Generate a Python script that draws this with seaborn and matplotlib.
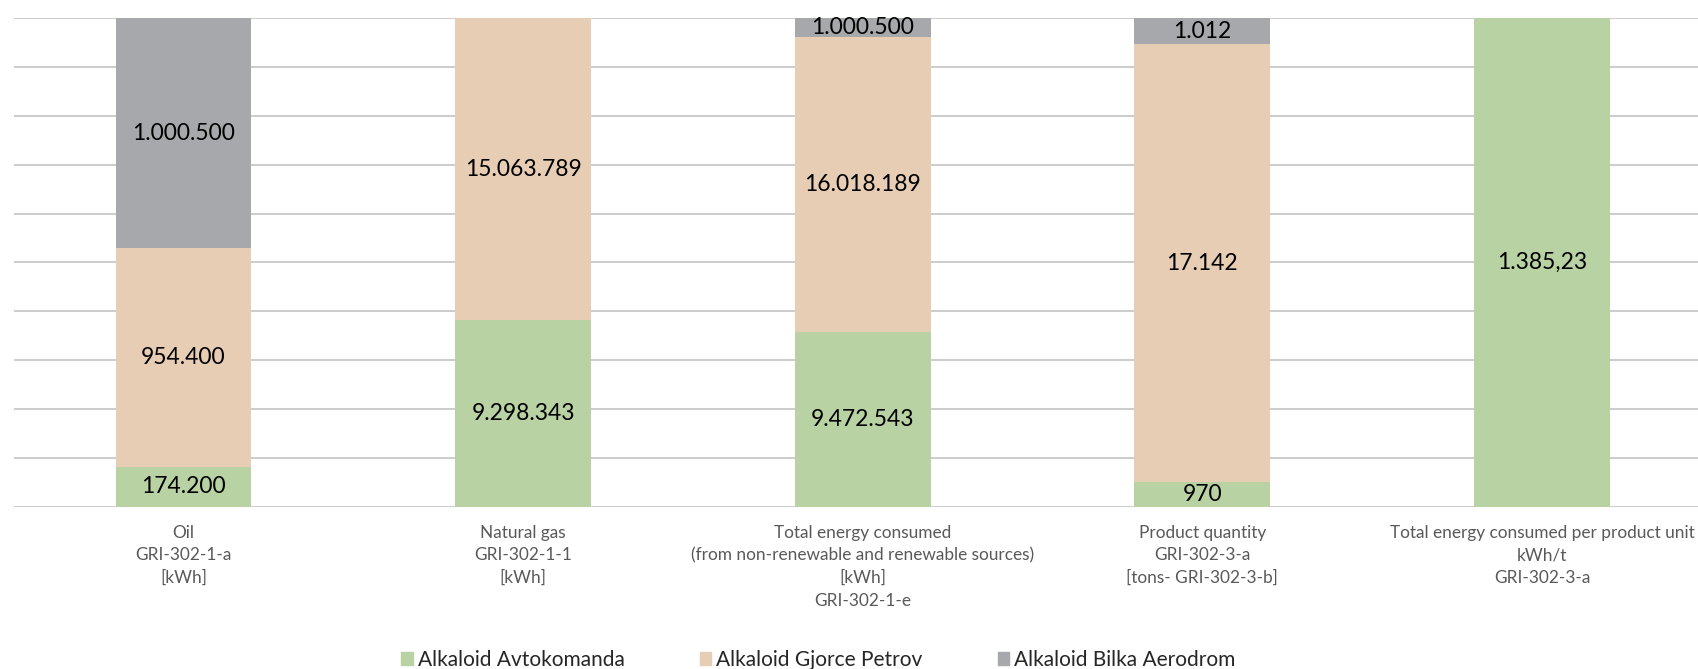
import numpy as np
import pandas as pd
import seaborn as sns
import matplotlib.pyplot as plt

# categories and raw values
categories = [
    "Oil\nGRI-302-1-a\n[kWh]",
    "Natural gas\nGRI-302-1-1\n[kWh]",
    "Total energy consumed\n(from non-renewable and renewable sources)\n[kWh]\nGRI-302-1-e",
    "Product quantity\nGRI-302-3-a\n[tons- GRI-302-3-b]",
    "Total energy consumed per product unit\nkWh/t\nGRI-302-3-a",
]
series = ["Alkaloid Avtokomanda", "Alkaloid Gjorce Petrov", "Alkaloid Bilka Aerodrom"]
avtokomanda = [174200, 9298343, 9472543, 970, 1385.23]
gjorce_petrov = [954400, 15063789, 16018189, 17142, 0]
bilka_aerodrom = [1000500, 0, 1000500, 1012, 0]
value_labels = [
    ["174.200", "9.298.343", "9.472.543", "970", "1.385,23"],
    ["954.400", "15.063.789", "16.018.189", "17.142", ""],
    ["1.000.500", "", "1.000.500", "1.012", ""],
]
colors = ["#b8d2a4", "#e8cdb5", "#a7a8ab"]

sns.set_style("white")
plt.rcParams["font.family"] = ["Lato", "DejaVu Sans"]

vals = np.array([avtokomanda, gjorce_petrov, bilka_aerodrom], dtype=float)
share = vals / vals.sum(axis=0) * 100
cum = share.cumsum(axis=0)

fig = plt.figure(figsize=(16.98, 6.69), dpi=100)
ax = fig.add_axes([0.0081, 0.2428, 1.0, 0.7297])

# draw cumulative bars from the top series down so they stack
for i in reversed(range(len(series))):
    df = pd.DataFrame({"cat": categories, "pct": cum[i]})
    sns.barplot(data=df, x="cat", y="pct", color=colors[i], width=0.4,
                saturation=1, ax=ax, linewidth=0, edgecolor="none", zorder=2)

# value labels in the middle of each segment
for i in range(len(series)):
    for j in range(len(categories)):
        if value_labels[i][j] == "":
            continue
        mid = cum[i][j] - share[i][j] / 2
        ax.text(j, mid, value_labels[i][j], ha="center", va="center",
                fontsize=16.5, color="black", zorder=3)

ax.set_ylim(0, 100)
ax.set_xlim(-0.5, len(categories) - 0.5)
ax.set_yticks(np.arange(0, 101, 10))
ax.set_yticklabels([])
ax.tick_params(axis="y", length=0)
ax.tick_params(axis="x", length=0, pad=13, labelsize=12.4, labelcolor="#595959")
for lbl in ax.get_xticklabels():
    lbl.set_linespacing(1.5)
ax.yaxis.grid(True, color="#c4c4c4", linewidth=1.2, zorder=0)
ax.set_axisbelow(True)
ax.set_xlabel("")
ax.set_ylabel("")
sns.despine(ax=ax, left=True, bottom=True)

handles = [plt.Rectangle((0, 0), 1, 1, color=c) for c in colors]
fig.legend(handles, series, loc="center", bbox_to_anchor=(0.482, 0.014), ncol=3,
           frameon=False, fontsize=15, handlelength=0.55, handleheight=0.55,
           handletextpad=0.25, columnspacing=3.6)

fig.savefig("out.png", dpi=100)
